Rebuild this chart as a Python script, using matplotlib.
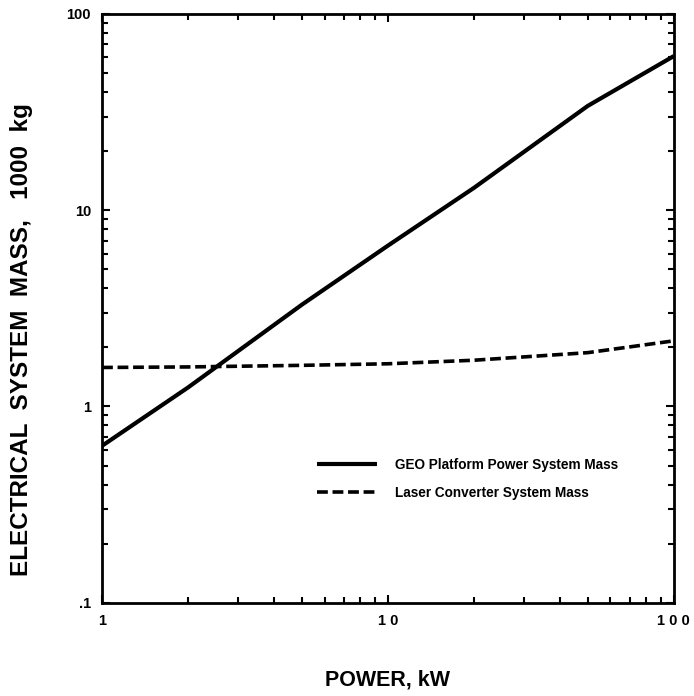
import matplotlib.pyplot as plt
from matplotlib.ticker import FixedLocator, NullFormatter

plt.rcParams['font.family'] = ['Liberation Sans', 'DejaVu Sans']
plt.rcParams['font.weight'] = 'bold'

# power, kW
power = [1, 2, 5, 10, 20, 50, 100]
# GEO platform power system mass, 1000 kg
geo_mass = [0.63, 1.25, 3.3, 6.6, 13.0, 34.0, 61.0]
# laser converter system mass, 1000 kg
laser_mass = [1.58, 1.59, 1.62, 1.65, 1.72, 1.88, 2.16]

x_ticks = [1, 10, 100]
x_labels = ['1', '1 0', '1 0 0']
y_ticks = [0.1, 1, 10, 100]
y_labels = ['.1', '1', '10', '100']

fig = plt.figure(figsize=(6.94, 6.96), dpi=100)
ax = fig.add_axes([0.147, 0.134, 0.824, 0.846])

ax.plot(power, geo_mass, color='black', linewidth=3.0, solid_capstyle='butt',
        label='GEO Platform Power System Mass')
ax.plot(power, laser_mass, color='black', linewidth=2.6, dashes=(3.0, 1.3),
        label='Laser Converter System Mass')

ax.set_xscale('log')
ax.set_yscale('log')
ax.set_xlim(1, 100)
ax.set_ylim(0.1, 100)

ax.xaxis.set_major_locator(FixedLocator(x_ticks))
ax.set_xticklabels(x_labels)
ax.yaxis.set_major_locator(FixedLocator(y_ticks))
ax.set_yticklabels(y_labels)
ax.xaxis.set_minor_formatter(NullFormatter())
ax.yaxis.set_minor_formatter(NullFormatter())

ax.tick_params(which='both', direction='in', top=True, right=True, width=1.5,
               labelsize=10.5)
ax.tick_params(which='major', length=6, pad=8)
ax.tick_params(which='minor', length=4)
for s in ax.spines.values():
    s.set_linewidth(2.0)

ax.set_xlabel('POWER, kW', fontsize=15.5, fontweight='bold')
ax.xaxis.set_label_coords(0.5, -0.113)
ax.set_ylabel('ELECTRICAL  SYSTEM  MASS,   1000  kg', fontsize=17.5,
              fontweight='bold')
ax.yaxis.set_label_coords(-0.12, 0.447)

ax.legend(loc='center left', bbox_to_anchor=(0.355, 0.21), frameon=False,
          fontsize=9.8, handlelength=4.4, handletextpad=1.3, labelspacing=1.05)

fig.savefig('out.png', dpi=100)
